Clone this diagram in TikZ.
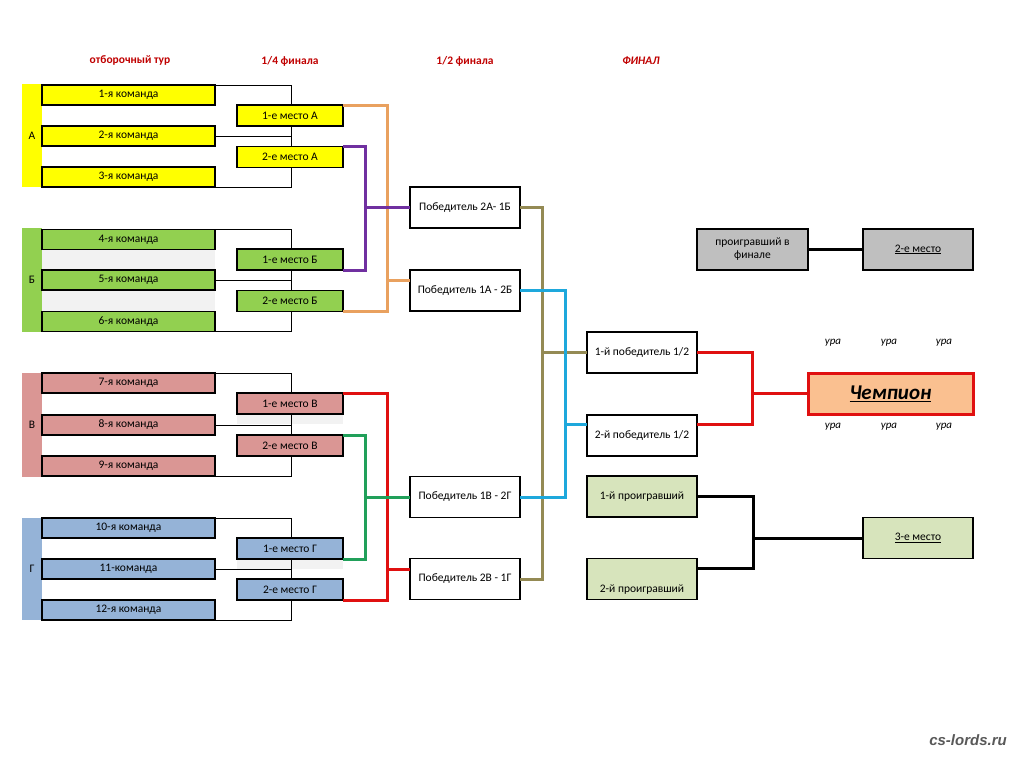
\documentclass[tikz,border=0pt]{standalone}
\usepackage{fontspec}
\setmainfont{Carlito}
\newfontfamily\wmfont{Liberation Sans}
\usetikzlibrary{calc}
\usepackage{xcolor}

\definecolor{grpyellow}{HTML}{FFFF00}
\definecolor{grpgreen}{HTML}{92D050}
\definecolor{grppink}{HTML}{DA9694}
\definecolor{grpblue}{HTML}{95B3D7}
\definecolor{hdrred}{HTML}{C00000}
\definecolor{lnorange}{HTML}{E9A15F}
\definecolor{lnpurple}{HTML}{7030A0}
\definecolor{lnred}{HTML}{E01010}
\definecolor{lngreen}{HTML}{21A05A}
\definecolor{lnkhaki}{HTML}{948A54}
\definecolor{lnblue}{HTML}{1EA8DC}
\definecolor{champfill}{HTML}{FAC090}
\definecolor{losergray}{HTML}{BFBFBF}
\definecolor{thirdfill}{HTML}{D7E4BC}
\definecolor{rowgray}{HTML}{F2F2F2}

\tikzset{
  team/.style={draw=black, line width=1.4pt, minimum width=173pt, minimum height=20pt,
    inner sep=0pt, outer sep=0pt, font=\fontsize{11.5}{13}\selectfont},
  place/.style={team, minimum width=106pt, minimum height=21pt},
  semi/.style={team, fill=white, minimum width=110pt, minimum height=41pt},
  grpbar/.style={minimum width=20pt, inner sep=0pt, outer sep=0pt, font=\fontsize{11.5}{13}\selectfont},
  bracket/.style={line width=0.8pt},
  link/.style={line width=3pt},
  hdr/.style={font=\fontsize{11.5}{13}\selectfont\bfseries, text=hdrred},
  cheer/.style={font=\fontsize{11}{12}\selectfont\itshape}
}

\begin{document}
\begin{tikzpicture}[x=1pt,y=-1pt]
  \useasboundingbox[fill=white] (0,0) rectangle (1020,756);

  % Headers
  \node[hdr] (h1) at (130,60) {отборочный тур};
  \node[hdr] (h2) at (290,61) {1/4 финала};
  \node[hdr] (h3) at (465,61) {1/2 финала};
  \node[hdr, font=\fontsize{11.5}{13}\selectfont\bfseries\itshape] (h4) at (641,61) {ФИНАЛ};

  % Light rows
  \fill[rowgray] (42,250) rectangle (215,270);
  \fill[rowgray] (42,290) rectangle (215,311);
  \fill[rowgray] (237,414) rectangle (343,424);
  \fill[rowgray] (237,559) rectangle (343,569);

  % Groups
  \node[grpbar, fill=grpyellow, minimum height=103pt] (gA) at (32,135.5) {А};
  \node[grpbar, fill=grpgreen, minimum height=104pt] (gB) at (32,280) {Б};
  \node[grpbar, fill=grppink, minimum height=104pt] (gV) at (32,425) {В};
  \node[grpbar, fill=grpblue, minimum height=102pt] (gG) at (32,569) {Г};

  % Teams
  \node[team, fill=grpyellow] (tA1) at (128.5,95) {1-я команда};
  \node[team, fill=grpyellow] (tA2) at (128.5,136) {2-я команда};
  \node[team, fill=grpyellow] (tA3) at (128.5,177) {3-я команда};
  \node[team, fill=grpgreen] (tB1) at (128.5,239.5) {4-я команда};
  \node[team, fill=grpgreen] (tB2) at (128.5,280) {5-я команда};
  \node[team, fill=grpgreen] (tB3) at (128.5,321.5) {6-я команда};
  \node[team, fill=grppink] (tV1) at (128.5,383) {7-я команда};
  \node[team, fill=grppink] (tV2) at (128.5,425) {8-я команда};
  \node[team, fill=grppink] (tV3) at (128.5,466) {9-я команда};
  \node[team, fill=grpblue] (tG1) at (128.5,528) {10-я команда};
  \node[team, fill=grpblue] (tG2) at (128.5,569) {11-команда};
  \node[team, fill=grpblue] (tG3) at (128.5,610) {12-я команда};

  % Group brackets
  \foreach \g in {A,B,V,G}
  {
    \draw[bracket] (t\g1.north east) -- ++(76,0) |- (t\g3.south east);
    \draw[bracket] (t\g2.east) -- ++(76,0);
  }

  % Quarter final places
  \node[place, fill=grpyellow] (pA1) at (290,115.5) {1-е место А};
  \node[place, fill=grpyellow] (pA2) at (290,157) {2-е место А};
  \node[place, fill=grpgreen] (pB1) at (290,259.5) {1-е место Б};
  \node[place, fill=grpgreen] (pB2) at (290,301) {2-е место Б};
  \node[place, fill=grppink] (pV1) at (290,403.5) {1-е место В};
  \node[place, fill=grppink] (pV2) at (290,445.5) {2-е место В};
  \node[place, fill=grpblue] (pG1) at (290,548.5) {1-е место Г};
  \node[place, fill=grpblue] (pG2) at (290,589.5) {2-е место Г};

  % Semi finals
  \node[semi] (s2A1B) at (465,207.5) {Победитель 2А- 1Б};
  \node[semi] (s1A2B) at (465,290.5) {Победитель 1А - 2Б};
  \node[semi] (s1V2G) at (465,497) {Победитель 1В - 2Г};
  \node[semi] (s2V1G) at (465,579) {Победитель 2В - 1Г};

  % Final
  \node[semi] (f1) at (642,352.5) {1-й победитель 1/2};
  \node[semi] (f2) at (642,435.5) {2-й победитель 1/2};
  \node[semi, fill=thirdfill] (l1) at (642,496.5) {1-й проигравший};
  \node[semi, fill=thirdfill] (l2) at (642,579) {};
  \node[font=\fontsize{11.5}{13}\selectfont] (l2txt) at (642,590) {2-й проигравший};
  \node[semi, fill=losergray, minimum width=111pt, align=center] (lf) at (752.5,249.5) {проигравший в\\финале};
  \node[semi, fill=losergray] (sec) at (918,249.5) {\underline{2-е место}};
  \node[semi, fill=thirdfill] (third) at (918,538) {\underline{3-е место}};
  \node[semi, draw=lnred, line width=3pt, fill=champfill, minimum width=165pt,
    font=\fontsize{21}{24}\selectfont\bfseries\itshape] (champ) at (890.5,393.5) {\underline{Чемпион}};

  % Cheers
  \foreach \x [count=\i] in {833,889,944}
  {
    \node[cheer] (up\i) at (\x,343) {ура};
    \node[cheer] (dn\i) at (\x,427) {ура};
  }

  % Quarter final links
  \draw[link, lnorange] (pA1.north east) -- ++(44,0) |- (pB2.south east);
  \draw[link, lnorange] ($(s1A2B.west)+(0,-10)$) -- ++(-23,0);
  \draw[link, lnpurple] (pA2.north east) -- ++(22,0) |- (pB1.south east);
  \draw[link, lnpurple] (s2A1B.west) -- ++(-45,0);
  \draw[link, lnred] (pV1.north east) -- ++(44,0) |- (pG2.south east);
  \draw[link, lnred] ($(s2V1G.west)+(0,-10)$) -- ++(-23,0);
  \draw[link, lngreen] (pV2.north east) -- ++(22,0) |- (pG1.south east);
  \draw[link, lngreen] (s1V2G.west) -- ++(-45,0);

  % Semi final links
  \draw[link, lnkhaki] (s2A1B.east) -- ++(22,0) |- (s2V1G.east);
  \draw[link, lnkhaki] (f1.west) -- ++(-45,0);
  \draw[link, lnblue] (s1A2B.east) -- ++(45,0) |- (s1V2G.east);
  \draw[link, lnblue] ($(f2.west)+(0,-11)$) -- ++(-22,0);

  % Final links
  \draw[link, lnred] (f1.east) -- ++(55,0) |- ($(f2.east)+(0,-11)$);
  \draw[link, lnred] (champ.west) -- ++(-56,0);
  \draw[link] (lf.east) -- (sec.west);
  \draw[link] (l1.east) -- ++(56,0) |- ($(l2.east)+(0,-11)$);
  \draw[link] (third.west) -- ++(-110,0);

  % Watermark
  \node[text=black!65, font=\wmfont\bfseries\itshape\fontsize{15}{16}\selectfont] (wm) at (968,740) {cs-lords.ru};

\end{tikzpicture}
\end{document}
